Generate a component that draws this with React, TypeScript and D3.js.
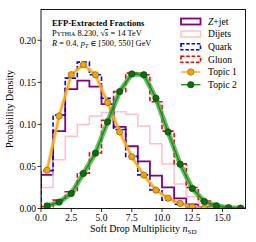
import React from 'react'
import * as d3 from 'd3'

// bin centres of the n_SD histograms (unit bins from 0 to 17)
const centers = [0.5, 1.5, 2.5, 3.5, 4.5, 5.5, 6.5, 7.5, 8.5, 9.5, 10.5, 11.5, 12.5, 13.5, 14.5, 15.5, 16.5]

const zjet = [0.04, 0.092, 0.142, 0.152, 0.145, 0.124, 0.097, 0.074, 0.056, 0.039, 0.025, 0.012, 0.005, 0.002, 0.0005, 0, 0]
const dijets = [0.025, 0.058, 0.086, 0.1, 0.11, 0.114, 0.115, 0.112, 0.098, 0.077, 0.053, 0.029, 0.014, 0.006, 0.002, 0.001, 0]
const quark = [0.045, 0.111, 0.155, 0.174, 0.159, 0.131, 0.094, 0.062, 0.04, 0.022, 0.01, 0.005, 0.002, 0.001, 0, 0, 0]
const gluon = [0.002, 0.01, 0.02, 0.042, 0.066, 0.105, 0.139, 0.161, 0.159, 0.127, 0.092, 0.053, 0.025, 0.009, 0.003, 0.001, 0.0003]
const topic1 = [0.0456, 0.11, 0.159, 0.171, 0.159, 0.126, 0.091, 0.0614, 0.0397, 0.0218, 0.0123, 0.006, 0.0017, 0.0005, 0.0003, 0.0003, 0.0003]
const topic2 = [0.003, 0.0076, 0.0178, 0.0416, 0.0658, 0.103, 0.139, 0.16, 0.159, 0.131, 0.091, 0.0527, 0.0238, 0.0083, 0.0032, 0.001, 0.0003]

const xTicks = [0, 2.5, 5, 7.5, 10, 12.5, 15]
const yTicks = [0, 0.05, 0.1, 0.15, 0.2]

const W = 256
const H = 242
const margin = { top: 9.5, right: 10.5, bottom: 33.5, left: 41 }
const font = '"Liberation Serif", "DejaVu Serif", serif'

const x = d3.scaleLinear().domain([0, 16.9]).range([margin.left, W - margin.right])
const y = d3.scaleLinear().domain([0, 0.2366]).range([H - margin.bottom, margin.top])

const lineGen = d3
  .line<[number, number]>()
  .x((d) => x(d[0]))
  .y((d) => y(d[1]))

// outline of a step histogram
const stepPath = (vals: number[]) => {
  const pts: [number, number][] = [[centers[0] - 0.5, 0]]
  vals.forEach((v, i) => {
    pts.push([centers[i] - 0.5, v])
    pts.push([centers[i] + 0.5, v])
  })
  pts.push([centers[centers.length - 1] + 0.5, 0])
  return lineGen(pts) || ''
}

const topicPath = (vals: number[]) => lineGen(vals.map((v, i) => [centers[i], v] as [number, number])) || ''

const hists = [
  { label: 'Z', vals: zjet, color: 'purple', dash: '', width: 1.8 },
  { label: 'Dijets', vals: dijets, color: 'pink', dash: '', width: 1.5 },
  { label: 'Quark', vals: quark, color: 'blue', dash: '4.5,2.2', width: 1.6 },
  { label: 'Gluon', vals: gluon, color: 'red', dash: '4.5,2.2', width: 1.6 },
]

const topics = [
  { label: 'Topic 1', vals: topic1, color: '#ffa500', band: '#ffb733', bandW: 3.4, marker: '#f5a300', edge: '#6b5a2e' },
  { label: 'Topic 2', vals: topic2, color: '#118c11', band: '#3aa63a', bandW: 5, marker: '#0e6e0e', edge: '#0b3d0b' },
]

const App = () => {
  const x0 = margin.left
  const x1 = W - margin.right
  const y0 = H - margin.bottom
  const y1 = margin.top
  const legX = 181
  const legY = [21.5, 34, 46.7, 59.3, 72, 84.7]

  return (
    <svg
      width={W}
      height={H}
      style={{ position: 'absolute', left: 0, top: 0, background: '#fff' }}
      fontFamily={font}
    >
      <defs>
        <clipPath id="plot">
          <rect x={x0} y={y1} width={x1 - x0} height={y0 - y1} />
        </clipPath>
      </defs>

      <g clipPath="url(#plot)">
        {hists.map((h) => (
          <path
            key={h.label}
            d={stepPath(h.vals)}
            fill="none"
            stroke={h.color}
            strokeWidth={h.width}
            strokeDasharray={h.dash || undefined}
          />
        ))}
        {topics.map((t) => (
          <g key={t.label}>
            <path d={topicPath(t.vals)} fill="none" stroke={t.band} strokeOpacity={0.75} strokeWidth={t.bandW} strokeLinejoin="round" />
            <path d={topicPath(t.vals)} fill="none" stroke={t.color} strokeWidth={1.3} strokeLinejoin="round" />
            {t.vals.map((v, i) => (
              <circle key={i} cx={x(centers[i])} cy={y(v)} r={3.2} fill={t.marker} stroke={t.edge} strokeWidth={0.6} />
            ))}
          </g>
        ))}
      </g>

      {/* frame */}
      <rect x={x0} y={y1} width={x1 - x0} height={y0 - y1} fill="none" stroke="#000" strokeWidth={0.9} />

      {/* x axis */}
      {xTicks.map((t) => (
        <g key={t}>
          <line x1={x(t)} x2={x(t)} y1={y0} y2={y0 + 3.5} stroke="#000" strokeWidth={0.8} />
          <text x={x(t)} y={y0 + 12.5} fontSize={9.5} textAnchor="middle">
            {t.toFixed(1)}
          </text>
        </g>
      ))}
      {/* y axis */}
      {yTicks.map((t) => (
        <g key={t}>
          <line x1={x0 - 3.5} x2={x0} y1={y(t)} y2={y(t)} stroke="#000" strokeWidth={0.8} />
          <text x={x0 - 5} y={y(t) + 3.3} fontSize={9.5} textAnchor="end">
            {t.toFixed(2)}
          </text>
        </g>
      ))}

      <text x={(x0 + x1) / 2} y={232} fontSize={10} textAnchor="middle">
        Soft Drop Multiplicity{' '}
        <tspan fontStyle="italic">n</tspan>
        <tspan fontSize={7} dy={2}>SD</tspan>
      </text>
      <text transform={`translate(12.5,${(y0 + y1) / 2}) rotate(-90)`} fontSize={10} textAnchor="middle">
        Probability Density
      </text>

      {/* annotation */}
      <text x={52} y={26} fontSize={8.6} fontWeight="bold">
        EFP-Extracted Fractions
      </text>
      <text x={52} y={36} fontSize={8.4}>
        <tspan style={{ fontVariant: 'small-caps' }}>Pythia</tspan> 8.230, √
        <tspan fontStyle="italic" textDecoration="overline">s</tspan> = 14 TeV
      </text>
      <text x={52} y={46} fontSize={8.4}>
        <tspan fontStyle="italic">R</tspan> = 0.4, <tspan fontStyle="italic">p</tspan>
        <tspan fontSize={6} fontStyle="italic" dy={1.5}>T</tspan>
        <tspan dy={-1.5}> ∈ [500, 550] GeV</tspan>
      </text>

      {/* legend */}
      {hists.map((h, i) => (
        <g key={h.label}>
          <rect
            x={legX}
            y={legY[i] - 3}
            width={19.5}
            height={6}
            fill="none"
            stroke={h.color}
            strokeWidth={h.width}
            strokeDasharray={h.dash ? '3.5,1.8' : undefined}
          />
          <text x={legX + 27} y={legY[i] + 3.3} fontSize={9.6}>
            {h.label === 'Z' ? (
              <>
                <tspan fontStyle="italic">Z</tspan>+jet
              </>
            ) : (
              h.label
            )}
          </text>
        </g>
      ))}
      {topics.map((t, i) => (
        <g key={t.label}>
          <line x1={legX} x2={legX + 19.5} y1={legY[4 + i]} y2={legY[4 + i]} stroke={t.color} strokeWidth={1.3} />
          <circle cx={legX + 9.75} cy={legY[4 + i]} r={3.2} fill={t.marker} stroke={t.edge} strokeWidth={0.6} />
          <text x={legX + 27} y={legY[4 + i] + 3.3} fontSize={9.6}>
            {t.label}
          </text>
        </g>
      ))}
    </svg>
  )
}

export default App
